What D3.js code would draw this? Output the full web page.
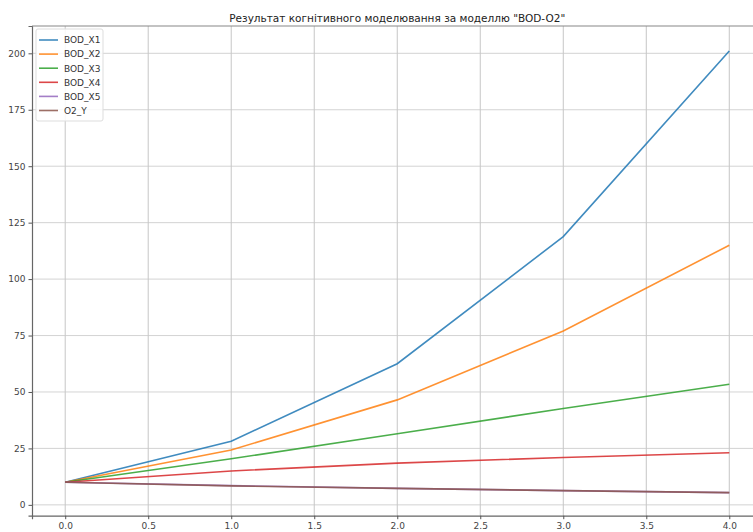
<!DOCTYPE html>
<html>
<head>
<meta charset="utf-8">
<script src="https://cdn.jsdelivr.net/npm/d3@7/dist/d3.min.js"></script>
<style>
  body { margin: 0; background: #fff; overflow: hidden; }
  text { font-family: "DejaVu Sans", sans-serif; }
</style>
</head>
<body>
<script>
var width = 753;
var height = 532;

// data
var steps = [0, 1, 2, 3, 4];
var seriesNames = ['BOD_X1', 'BOD_X2', 'BOD_X3', 'BOD_X4', 'BOD_X5', 'O2_Y'];
var bodX1 = [10, 28.2, 62.5, 118.8, 201];
var bodX2 = [10, 24.3, 46.5, 77, 115];
var bodX3 = [10, 20.4, 31.5, 42.7, 53.4];
var bodX4 = [10, 15, 18.5, 21, 23.1];
var bodX5 = [10, 8.5, 7.3, 6.3, 5.4];
var o2Y = [10, 8.4, 7.3, 6.3, 5.4];
var xTicks = [0, 0.5, 1, 1.5, 2, 2.5, 3, 3.5, 4];
var yTicks = [0, 25, 50, 75, 100, 125, 150, 175, 200];

var colors = ['#1f77b4', '#ff7f0e', '#2ca02c', '#d62728', '#9467bd', '#8c564b'];
var allSeries = [bodX1, bodX2, bodX3, bodX4, bodX5, o2Y];

var margin = { top: 26, right: -9.5, bottom: 16.3, left: 32 };
var plotW = width - margin.left - margin.right;
var plotH = height - margin.top - margin.bottom;

var svg = d3.select('body').append('svg').attr('width', width).attr('height', height);

var xScale = d3.scaleLinear().domain([-0.2, 4.2]).range([0, plotW]);
var yScale = d3.scaleLinear().domain([-4.8, 212.1]).range([plotH, 0]);

var g = svg.append('g').attr('transform', 'translate(' + margin.left + ',' + margin.top + ')');

// grid
g.append('g').selectAll('line').data(xTicks).enter().append('line')
    .attr('x1', function (d) { return xScale(d); })
    .attr('x2', function (d) { return xScale(d); })
    .attr('y1', 0).attr('y2', plotH)
    .attr('stroke', '#b8b8b8').attr('stroke-width', 0.8);
g.append('g').selectAll('line').data(yTicks).enter().append('line')
    .attr('y1', function (d) { return yScale(d); })
    .attr('y2', function (d) { return yScale(d); })
    .attr('x1', 0).attr('x2', plotW)
    .attr('stroke', '#c8c8c8').attr('stroke-width', 0.8);

// axes
var xAxis = d3.axisBottom(xScale).tickValues(xTicks).tickFormat(d3.format('.1f')).tickSize(3.5).tickPadding(3);
var yAxis = d3.axisLeft(yScale).tickValues(yTicks).tickSize(3.5).tickPadding(3);

var gx = g.append('g').attr('transform', 'translate(0,' + plotH + ')').call(xAxis);
var gy = g.append('g').call(yAxis);
[gx, gy].forEach(function (a) {
    a.select('.domain').attr('stroke', '#666').attr('stroke-width', 1.2);
    a.selectAll('.tick line').attr('stroke', '#555');
    a.selectAll('.tick text').attr('fill', '#444').style('font-size', '9px');
});

// top spine
g.append('line').attr('x1', 0).attr('x2', plotW).attr('y1', 0).attr('y2', 0)
    .attr('stroke', '#888').attr('stroke-width', 1.2);

// lines
var line = d3.line()
    .x(function (d, i) { return xScale(steps[i]); })
    .y(function (d) { return yScale(d); });

allSeries.forEach(function (s, i) {
    g.append('path').datum(s)
        .attr('fill', 'none')
        .attr('stroke', colors[i])
        .attr('stroke-opacity', 0.85)
        .attr('stroke-width', 1.6)
        .attr('d', line);
});

// title
svg.append('text')
    .attr('x', margin.left + plotW / 2)
    .attr('y', 22)
    .attr('text-anchor', 'middle')
    .attr('fill', '#222')
    .style('font-size', '10.5px')
    .text('Результат когнітивного моделювання за моделлю "BOD-O2"');

// legend
var lg = g.append('g').attr('transform', 'translate(4,3)');
lg.append('rect').attr('width', 67).attr('height', 92).attr('rx', 2)
    .attr('fill', '#fff').attr('fill-opacity', 0.85)
    .attr('stroke', '#ddd');
seriesNames.forEach(function (n, i) {
    var y = 11 + i * 14.1;
    lg.append('line').attr('x1', 3).attr('x2', 22).attr('y1', y).attr('y2', y)
        .attr('stroke', colors[i]).attr('stroke-opacity', 0.85).attr('stroke-width', 1.6);
    lg.append('text').attr('x', 28).attr('y', y + 3.3)
        .attr('fill', '#333').style('font-size', '9px').text(n);
});
</script>
</body>
</html>
